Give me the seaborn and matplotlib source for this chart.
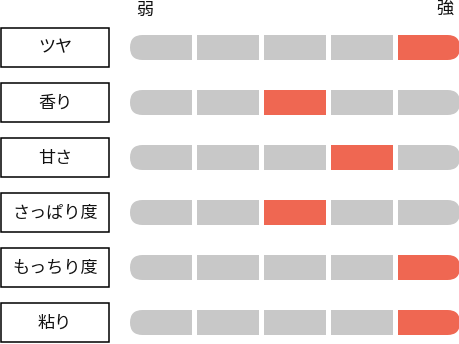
import matplotlib
matplotlib.use("Agg")
import matplotlib.pyplot as plt
from matplotlib.patches import FancyBboxPatch, Rectangle
import seaborn as sns
import pandas as pd

# ---- data ----
categories = ["ツヤ", "香り", "甘さ", "さっぱり度", "もっちり度", "粘り"]
levels = [5, 3, 4, 3, 5, 5]
n_steps = 5
scale_labels = ["弱", "強"]

df = pd.DataFrame({"category": categories, "level": levels})

sns.set_theme(style="white")
plt.rcParams["font.family"] = ["Noto Sans CJK JP", "DejaVu Sans"]

W, H = 460, 344
fig = plt.figure(figsize=(W / 100, H / 100), dpi=100)
ax = fig.add_axes([0, 0, 1, 1])
ax.set_xlim(0, W)
ax.set_ylim(H, 0)
ax.axis("off")

gray = "#c8c8c8"
red = "#ef6752"

bar_x0, bar_x1 = 130, 460
gap = 5
seg_w = (bar_x1 - bar_x0 - gap * (n_steps - 1)) / n_steps
bar_h = 25
r = bar_h / 2
row0, row_step = 47.5, 55
box_x0, box_w, box_h = 1, 108, 39

for i, row in df.iterrows():
    cy = row0 + i * row_step
    # label box
    ax.add_patch(Rectangle((box_x0, cy - box_h / 2), box_w, box_h,
                           facecolor="white", edgecolor="black", linewidth=1.1))
    ax.text(box_x0 + box_w / 2, cy, row["category"], ha="center", va="center",
            fontsize=12.3, color="#111111")
    for s in range(n_steps):
        color = red if s + 1 == row["level"] else gray
        x = bar_x0 + s * (seg_w + gap)
        y = cy - bar_h / 2
        if s == 0 or s == n_steps - 1:
            ax.add_patch(FancyBboxPatch((x, y), seg_w, bar_h,
                                        boxstyle=f"round,pad=0,rounding_size={r}",
                                        facecolor=color, edgecolor="none", linewidth=0))
            sx = x + r if s == 0 else x
            ax.add_patch(Rectangle((sx, y), seg_w - r, bar_h,
                                   facecolor=color, edgecolor="none", linewidth=0))
        else:
            ax.add_patch(Rectangle((x, y), seg_w, bar_h,
                                   facecolor=color, edgecolor="none", linewidth=0))

ax.text(145, 10, scale_labels[0], ha="center", va="center", fontsize=12.3, color="#111111")
ax.text(445, 10, scale_labels[1], ha="center", va="center", fontsize=12.3, color="#111111")

fig.savefig("out.png", dpi=100)
